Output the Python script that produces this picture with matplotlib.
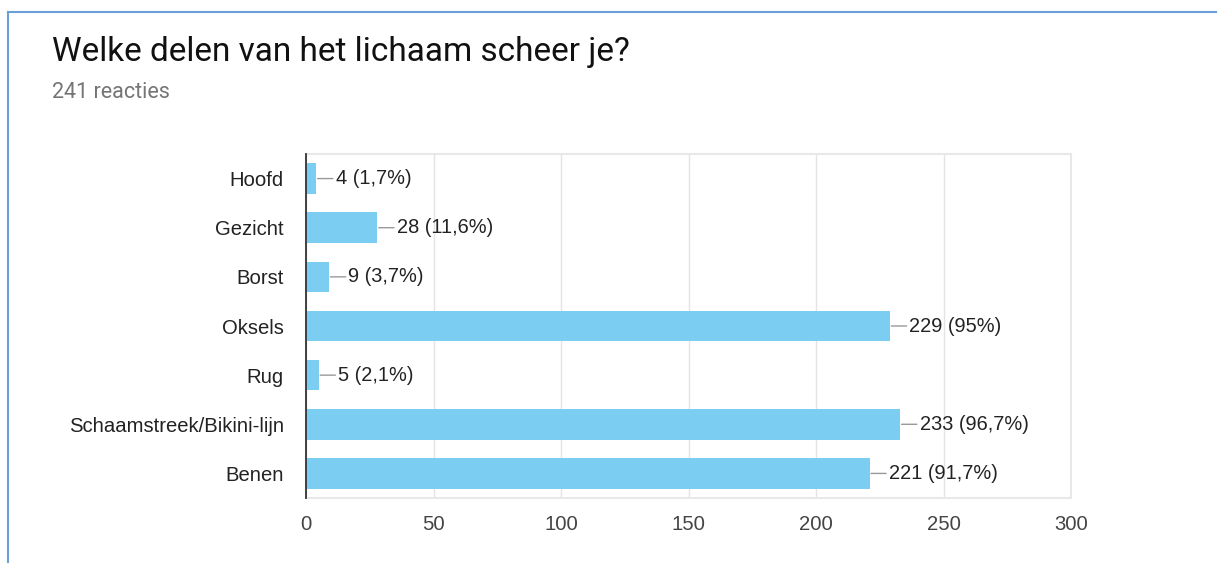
import matplotlib
matplotlib.use("Agg")
import matplotlib.pyplot as plt
from matplotlib.lines import Line2D

plt.rcParams["font.family"] = ["Liberation Sans", "DejaVu Sans"]

categories = ["Hoofd", "Gezicht", "Borst", "Oksels", "Rug",
              "Schaamstreek/Bikini-lijn", "Benen"]
counts = [4, 28, 9, 229, 5, 233, 221]
pct_labels = ["1,7%", "11,6%", "3,7%", "95%", "2,1%", "96,7%", "91,7%"]
x_ticks = [0, 50, 100, 150, 200, 250, 300]

W, H = 1217, 563
fig = plt.figure(figsize=(W / 100, H / 100), dpi=100)

# card border (left + top)
fig.add_artist(Line2D([8 / W, 8 / W], [0, 1 - 12 / H], color="#6a9fd8", lw=1.5))
fig.add_artist(Line2D([8 / W, 1], [1 - 12 / H, 1 - 12 / H], color="#6a9fd8", lw=1.5))

fig.text(52 / W, 1 - 52 / H, "Welke delen van het lichaam scheer je?",
         fontsize=24, color="#111111", va="center", ha="left",
         family=["Roboto", "DejaVu Sans"])
fig.text(52 / W, 1 - 92 / H, "241 reacties", fontsize=15.5,
         color="#757575", va="center", ha="left",
         family=["Roboto", "DejaVu Sans"])

left, right, top, bottom = 306, 1071, 154, 498
ax = fig.add_axes([left / W, 1 - bottom / H, (right - left) / W, (bottom - top) / H])

ypos = list(range(len(categories)))
ax.barh(ypos, counts, height=0.62, color="#7bcef2", zorder=3)

for y, c, p in zip(ypos, counts, pct_labels):
    ax.annotate(f"{c} ({p})", xy=(c, y), xytext=(14, 0), textcoords="offset points",
                ha="left", va="center", fontsize=14.4, color="#222222",
                arrowprops=dict(arrowstyle="-", color="#999999", lw=1,
                                shrinkA=0, shrinkB=1))

ax.set_xlim(0, 300)
ax.set_ylim(len(categories) - 0.5, -0.5)
ax.set_yticks(ypos)
ax.set_yticklabels(categories, fontsize=14.6, color="#222222")
ax.set_xticks(x_ticks)
ax.set_xticklabels([str(t) for t in x_ticks], fontsize=14.6, color="#444444")
ax.tick_params(axis="both", length=0)
ax.tick_params(axis="y", pad=16)
ax.tick_params(axis="x", pad=12)

ax.grid(axis="x", color="#e4e4e4", lw=1, zorder=0)
for s in ["top", "bottom", "right"]:
    ax.spines[s].set_color("#e8e8e8")
    ax.spines[s].set_linewidth(1.5)
ax.spines["left"].set_color("#333333")
ax.spines["left"].set_linewidth(1.3)
ax.spines["left"].set_zorder(5)

fig.savefig("out.png", dpi=100)
